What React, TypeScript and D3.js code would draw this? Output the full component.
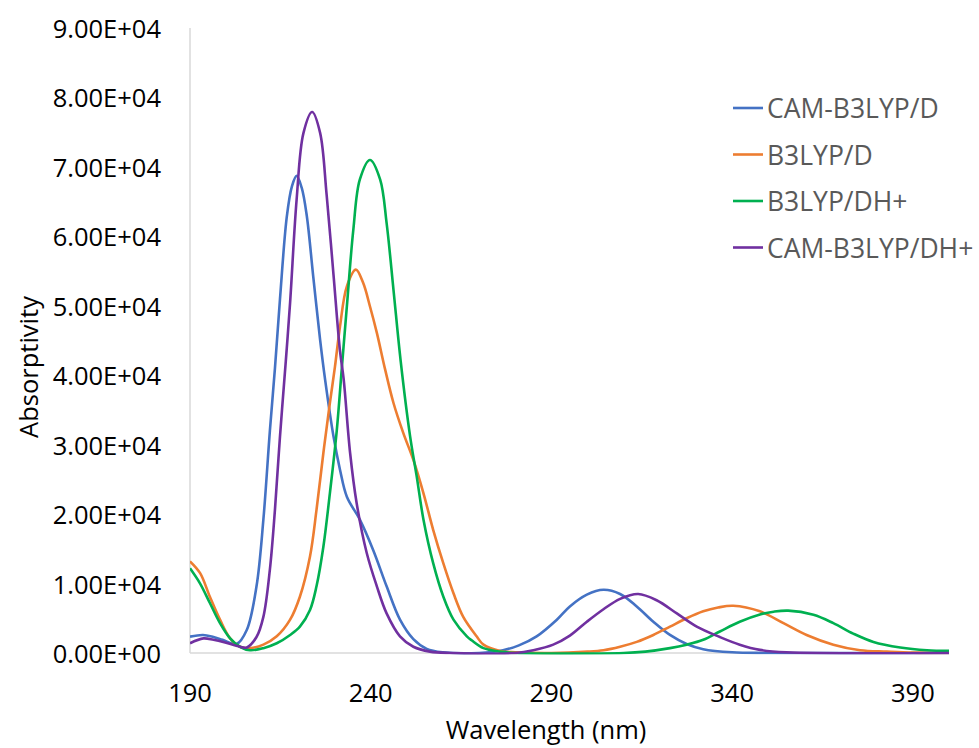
import React from "react";
import * as d3 from "d3";

// ---- data ----
const yTicks = [0, 10000, 20000, 30000, 40000, 50000, 60000, 70000, 80000, 90000];
const xTicks = [190, 240, 290, 340, 390];

const seriesNames = ["CAM-B3LYP/D", "B3LYP/D", "B3LYP/DH+", "CAM-B3LYP/DH+"];
const seriesColors = ["#4472C4", "#ED7D31", "#00B050", "#7030A0"];

const camD_nm = [190, 193.6, 196.5, 199, 202.9, 205.7, 208.4, 210.3, 212.1, 213.5, 214.9, 216.8, 218.2, 219.5, 220.9, 222.3, 224.1, 226, 227.4, 229.7, 231.5, 233.4, 237, 240.7, 244.4, 248.1, 251.8, 255.5, 260, 270, 276.6, 281, 285.9, 291.5, 295.1, 299.8, 304.4, 309, 313.6, 318.2, 322.8, 327.4, 332, 340, 350, 400];
const camD_abs = [2350, 2600, 2300, 1900, 1300, 3300, 9600, 19200, 32000, 41000, 51000, 62900, 67200, 68700, 67000, 63000, 54200, 45100, 39300, 31200, 26400, 22500, 19200, 14800, 9600, 4800, 2000, 600, 100, 0, 400, 1100, 2400, 4800, 6700, 8400, 9100, 8500, 6700, 4500, 2600, 1300, 550, 100, 0, 0];

const b3D_nm = [190, 192.8, 195.5, 198.3, 201.1, 203.8, 206.6, 210.3, 214, 217.7, 220.4, 223.2, 225, 226.9, 228.7, 230.1, 231.5, 233.4, 235.9, 237.9, 239.8, 241.7, 244, 246.3, 249, 251.8, 254.6, 257.3, 260.1, 262.9, 265.6, 269.3, 271.2, 275.8, 280, 290, 300, 304.4, 309, 313.6, 318.2, 322.8, 327.4, 332, 336.1, 340.3, 347.7, 354.2, 360.6, 368, 375.4, 382.8, 390, 400];
const b3D_abs = [13200, 11500, 8100, 4800, 2100, 900, 700, 1200, 2400, 4800, 8100, 13900, 20600, 28800, 36000, 41200, 47000, 52800, 55200, 53300, 49900, 46100, 40800, 36000, 31700, 27800, 23000, 17700, 12900, 8600, 5200, 2400, 1200, 300, 100, 0, 200, 400, 900, 1600, 2600, 3800, 5000, 6000, 6550, 6800, 6000, 4300, 2600, 1200, 400, 200, 50, 0];

const b3DH_nm = [190, 192.8, 195.5, 198.3, 201.1, 203.8, 206.6, 210.3, 214, 217.7, 220.4, 223.2, 225, 226.9, 228.7, 230.6, 232, 233.4, 235.2, 237, 239.8, 242.6, 244.4, 246.3, 248.3, 250.9, 252.7, 254.6, 257.3, 260.1, 262.9, 266.6, 268, 271.2, 275.8, 280, 310, 316, 322.8, 327.4, 332, 336.6, 342.1, 347.7, 351.5, 355.5, 362.5, 368, 373.5, 379.1, 386.5, 393.9, 400];
const b3DH_abs = [12200, 10000, 7200, 4300, 2100, 900, 400, 700, 1400, 2600, 3800, 6200, 9600, 15300, 23000, 32000, 41000, 49900, 61000, 68200, 71000, 68200, 61900, 52300, 42000, 31200, 25500, 19200, 12900, 8100, 4800, 2400, 1800, 700, 200, 0, 0, 200, 700, 1200, 1900, 3100, 4500, 5550, 5950, 6100, 5500, 4300, 2800, 1600, 800, 400, 300];

const camDH_nm = [190, 193.7, 196.5, 199.2, 203.8, 205.7, 208.4, 210.3, 212.1, 213.5, 214.9, 216.5, 217.7, 219.5, 221.4, 223.8, 226, 227.8, 229.7, 231.5, 232.5, 234.3, 236.1, 238.9, 241.7, 244.4, 248.1, 251.8, 256.4, 262, 280, 285, 290.5, 295.1, 299.8, 304.4, 309, 314, 319.1, 324.7, 330.2, 336.6, 342.1, 347.7, 355, 400];
const camDH_abs = [1400, 2100, 1900, 1600, 900, 800, 2300, 5200, 12000, 20600, 31200, 42000, 50500, 65300, 74900, 77900, 74900, 66000, 54500, 43500, 39500, 28800, 21600, 14400, 9600, 5700, 2400, 900, 200, 0, 0, 400, 1200, 2500, 4500, 6300, 7800, 8500, 7600, 5700, 3800, 2300, 1200, 450, 100, 0];

const seriesNm = [camD_nm, b3D_nm, b3DH_nm, camDH_nm];
const seriesAbs = [camD_abs, b3D_abs, b3DH_abs, camDH_abs];

const W = 979;
const H = 748;
const FONT = "'Open Sans', sans-serif";

export default function App() {
  const x = d3.scaleLinear().domain([190, 400]).range([190, 949]);
  const y = d3.scaleLinear().domain([0, 90000]).range([653, 28]);
  const line = d3
    .line<[number, number]>()
    .x((d) => x(d[0]))
    .y((d) => y(d[1]))
    .curve(d3.curveCatmullRom.alpha(0.5));

  const fmt = (v: number) => {
    const e = v === 0 ? 0 : Math.floor(Math.log10(v));
    const m = v === 0 ? 0 : v / Math.pow(10, e);
    return `${m.toFixed(2)}E+${String(e).padStart(2, "0")}`;
  };

  return (
    <svg
      width={W}
      height={H}
      style={{ position: "absolute", left: 0, top: 0, background: "#fff" }}
      fontFamily={FONT}
    >
      <defs>
        <clipPath id="plotClip">
          <rect x={x(190)} y={y(90000) - 5} width={x(400) - x(190) + 2} height={y(0) - y(90000) + 6.5} />
        </clipPath>
      </defs>
      <rect x={0} y={0} width={W} height={H} fill="#fff" />
      {/* axes */}
      <line x1={x(190)} x2={x(190)} y1={y(90000)} y2={y(0)} stroke="#d9d9d9" strokeWidth={1.5} />
      <line x1={x(190)} x2={x(400)} y1={y(0)} y2={y(0)} stroke="#d9d9d9" strokeWidth={1.5} />
      {yTicks.map((t) => (
        <text key={t} x={161} y={y(t)} textAnchor="end" dominantBaseline="central" fontSize={25.5} fill="#000">
          {fmt(t)}
        </text>
      ))}
      {xTicks.map((t) => (
        <text key={t} x={x(t)} y={692} textAnchor="middle" dominantBaseline="central" fontSize={25.5} fill="#000">
          {t}
        </text>
      ))}
      <text x={546} y={729} textAnchor="middle" dominantBaseline="central" fontSize={25.5} fill="#000">
        Wavelength (nm)
      </text>
      <text
        transform={`translate(28, 367) rotate(-90)`}
        textAnchor="middle"
        dominantBaseline="central"
        fontSize={25.5}
        fill="#000"
      >
        Absorptivity
      </text>
      {/* series */}
      <g clipPath="url(#plotClip)">
        {seriesNames.map((name, i) => {
          const pts = seriesNm[i].map((n, j) => [n, seriesAbs[i][j]] as [number, number]);
          return (
            <path key={name} d={line(pts) || ""} fill="none" stroke={seriesColors[i]} strokeWidth={2.6} />
          );
        })}
      </g>
      {/* legend */}
      {seriesNames.map((name, i) => {
        const ly = 108 + i * 46.5;
        return (
          <g key={name}>
            <line x1={733} x2={763} y1={ly} y2={ly} stroke={seriesColors[i]} strokeWidth={2.6} />
            <text x={767} y={ly} dominantBaseline="central" fontSize={26.5} fill="#595959">
              {name}
            </text>
          </g>
        );
      })}
    </svg>
  );
}
